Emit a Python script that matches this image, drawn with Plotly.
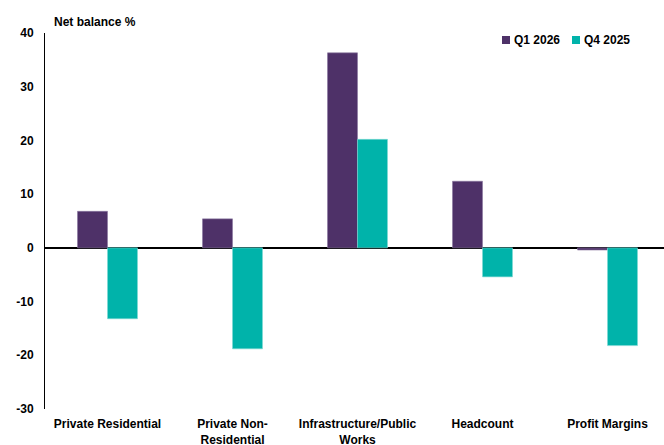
import plotly.graph_objects as go

categories = ["Private Residential", "Private Non-<br>Residential", "Infrastructure/Public<br>Works", "Headcount", "Profit Margins"]
series_names = ["Q1 2026", "Q4 2025"]
q1_2026 = [6.8, 5.4, 36.3, 12.4, -0.4]
q4_2025 = [-13.2, -18.8, 20.2, -5.4, -18.2]
y_ticks = [-30, -20, -10, 0, 10, 20, 30, 40]

PURPLE = "#4E3168"
TEAL = "#00B3AA"
FONT = "Liberation Sans, Arial, sans-serif"

W, H = 664, 445
L, R, T, B = 45, 0, 33, 36
PW, PH = W - L - R, H - T - B


def px_x(p):
    return (p - L) / PW


def px_y(p):
    return (H - B - p) / PH


fig = go.Figure()
fig.add_trace(go.Bar(x=list(range(len(categories))), y=q1_2026, name=series_names[0],
                     marker=dict(color=PURPLE, line=dict(color="#8A77A0", width=0.6))))
fig.add_trace(go.Bar(x=list(range(len(categories))), y=q4_2025, name=series_names[1],
                     marker=dict(color=TEAL, line=dict(color="#7FD9D4", width=0.6))))

# custom legend (square + bold label), matching the reference's compact style
shapes = []
annotations = [dict(text="<b>Net balance %</b>", xref="paper", yref="paper",
                    x=px_x(52), y=px_y(22), xanchor="left", yanchor="middle",
                    showarrow=False, font=dict(family=FONT, size=12, color="black"))]
for name, color, sq_x in [(series_names[0], PURPLE, 502), (series_names[1], TEAL, 572)]:
    shapes.append(dict(type="rect", xref="paper", yref="paper",
                       x0=px_x(sq_x), x1=px_x(sq_x + 8), y0=px_y(44), y1=px_y(36),
                       fillcolor=color, line=dict(width=0)))
    annotations.append(dict(text="<b>%s</b>" % name, xref="paper", yref="paper",
                            x=px_x(sq_x + 10), y=px_y(40), xanchor="left", yanchor="middle",
                            showarrow=False, font=dict(family=FONT, size=12, color="black")))

fig.update_layout(
    width=W, height=H,
    margin=dict(l=L, r=R, t=T, b=B, autoexpand=False),
    paper_bgcolor="white", plot_bgcolor="white",
    barmode="group", bargap=0.52, bargroupgap=0,
    font=dict(family=FONT, size=12, color="black"),
    showlegend=False,
    shapes=shapes,
    annotations=annotations,
)
fig.update_xaxes(range=[-0.5, 4.452], tickmode="array", tickvals=list(range(len(categories))),
                 ticktext=["<b>" + c.replace("<br>", "</b><br><b>") + "</b>" for c in categories],
                 showline=False, showgrid=False, zeroline=False, ticks="", automargin=False,
                 ticklabelstandoff=6, tickfont=dict(family=FONT, size=12, color="black"))
fig.update_yaxes(range=[-30, 40], tickmode="array", tickvals=y_ticks,
                 ticktext=["<b>%d</b>" % v for v in y_ticks],
                 showline=True, linecolor="black", linewidth=1, showgrid=False,
                 zeroline=True, zerolinecolor="black", zerolinewidth=1.5, ticks="", automargin=False,
                 ticklabelstandoff=8, tickfont=dict(family=FONT, size=12, color="black"))

fig.write_html("out.html")
